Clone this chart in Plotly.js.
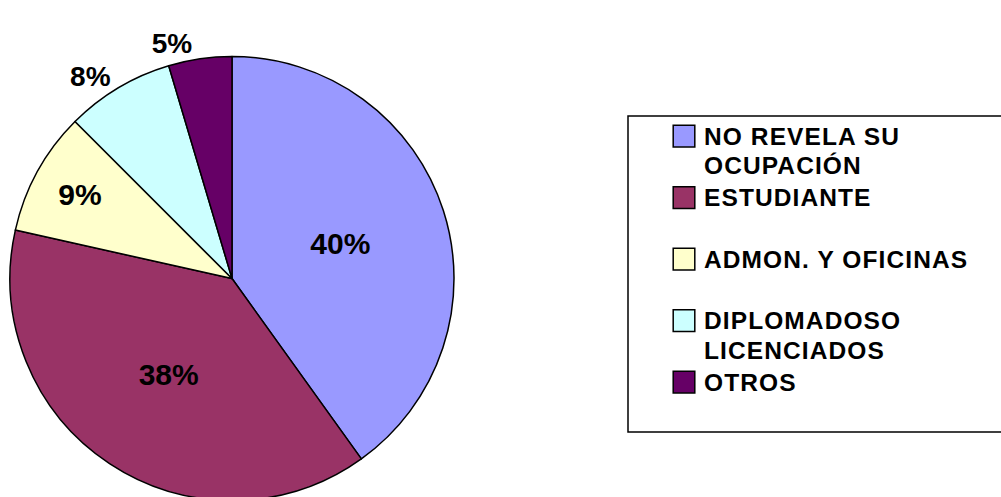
<!DOCTYPE html>
<html>
<head>
<meta charset="utf-8">
<script src="https://cdn.plot.ly/plotly-3.0.1.min.js"></script>
<style>
  html, body { margin: 0; padding: 0; overflow: hidden; background: #fff; }
  #chart { width: 1001px; height: 520px; }
  .legend .legendpie { transform: translate(20px, 0px) scale(1.8); vector-effect: non-scaling-stroke; }
</style>
</head>
<body>
<div id="chart"></div>
<script>
// ---- data ----
const categories = ['NO REVELA SU<br>OCUPACIÓN', 'ESTUDIANTE', 'ADMON. Y OFICINAS', 'DIPLOMADOSO<br>LICENCIADOS', 'OTROS'];
const values = [40.1, 38.4, 9.0, 7.9, 4.6];
const sliceColors = ['#9999FF', '#993366', '#FFFFCC', '#CCFFFF', '#660066'];
const labelPlacement = ['inside', 'inside', 'inside', 'outside', 'outside'];

// legend entries: every entry takes two lines, like the reference
const legendLabels = categories.map(c => {
  const lines = c.split('<br>');
  while (lines.length < 2) lines.push('\u00a0');
  return lines.map(l => '<span style="font-size:24.5px;letter-spacing:1.1px">' + l + '</span>').join('<br>');
});

const W = 1001, H = 520;
const font = 'Liberation Sans, Arial, sans-serif';

const trace = {
  type: 'pie',
  labels: legendLabels,
  values: values,
  sort: false,
  direction: 'clockwise',
  rotation: 0,
  marker: { colors: sliceColors, line: { color: '#000000', width: 1.5 } },
  texttemplate: '%{percent:.0%}',
  textposition: labelPlacement,
  insidetextorientation: 'horizontal',
  insidetextfont: { family: font, size: 30, color: '#000000', weight: 'bold' },
  outsidetextfont: { family: font, size: 28, color: '#000000', weight: 'bold' },
  hoverinfo: 'none',
  automargin: false,
  domain: { x: [10 / W, 454 / W], y: [1 - 500.5 / H, 1 - 56.5 / H] }
};

const layout = {
  width: W, height: H,
  margin: { l: 0, r: 0, t: 0, b: 0 },
  paper_bgcolor: '#ffffff',
  plot_bgcolor: '#ffffff',
  showlegend: true,
  legend: {
    x: 664 / W, xanchor: 'left',
    y: 1 - 115 / H, yanchor: 'top',
    valign: 'top',
    bgcolor: 'rgba(0,0,0,0)',
    borderwidth: 0,
    font: { family: font, size: 22.5, color: '#000000', weight: 'bold' }
  },
  shapes: [{
    type: 'rect', xref: 'paper', yref: 'paper',
    x0: 628 / W, x1: 1.05, y0: 1 - 432 / H, y1: 1 - 116 / H,
    line: { color: '#000000', width: 1.5 }, fillcolor: 'rgba(0,0,0,0)', layer: 'below'
  }]
};

Plotly.newPlot('chart', [trace], layout, { displayModeBar: false, staticPlot: true });
</script>
</body>
</html>
